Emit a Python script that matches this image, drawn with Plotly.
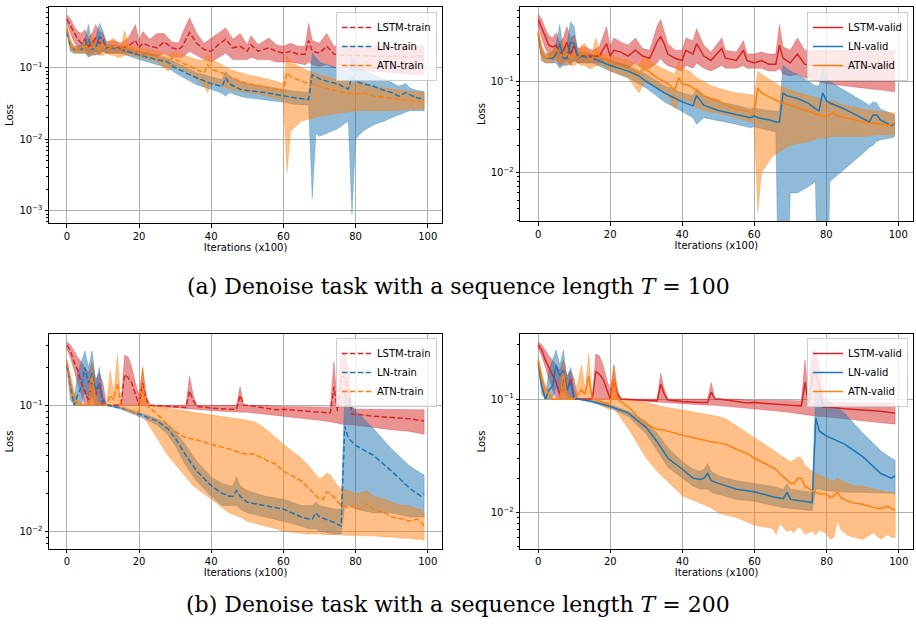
import plotly.graph_objects as go

# ---------------- data ----------------
X_TICKS = [0, 20, 40, 60, 80, 100]

# Panel (a) left : train, T=100
P1_LSTM_X = [0, 1, 2, 3, 4, 5, 6, 7, 8, 9, 10, 11, 13, 15, 17, 19, 20, 21, 23, 25, 27, 29, 31, 32, 34, 36, 38, 40, 42, 44, 46, 48, 50, 51, 53, 56, 58, 60, 62, 64, 66, 67, 68, 70, 72, 74, 76, 80, 85, 90, 96, 97, 99]
P1_LSTM_MEAN = [0.48, 0.38, 0.3, 0.25, 0.22, 0.25, 0.2, 0.22, 0.26, 0.22, 0.24, 0.19, 0.19, 0.19, 0.2, 0.24, 0.19, 0.22, 0.2, 0.19, 0.23, 0.19, 0.18, 0.2, 0.31, 0.22, 0.18, 0.17, 0.21, 0.25, 0.19, 0.2, 0.17, 0.21, 0.17, 0.19, 0.17, 0.16, 0.17, 0.155, 0.155, 0.24, 0.17, 0.16, 0.2, 0.155, 0.15, 0.15, 0.145, 0.145, 0.14, 0.15, 0.14]
P1_LSTM_HI = [0.55, 0.48, 0.38, 0.32, 0.3, 0.34, 0.26, 0.3, 0.4, 0.32, 0.3, 0.23, 0.24, 0.22, 0.26, 0.4, 0.24, 0.32, 0.25, 0.3, 0.3, 0.23, 0.22, 0.3, 0.5, 0.3, 0.22, 0.26, 0.3, 0.36, 0.25, 0.3, 0.21, 0.28, 0.21, 0.26, 0.21, 0.2, 0.22, 0.2, 0.2, 0.42, 0.24, 0.22, 0.3, 0.2, 0.2, 0.2, 0.2, 0.2, 0.2, 0.2, 0.2]
P1_LSTM_LO = [0.42, 0.3, 0.23, 0.19, 0.17, 0.18, 0.15, 0.16, 0.17, 0.15, 0.17, 0.16, 0.16, 0.16, 0.16, 0.16, 0.15, 0.15, 0.15, 0.14, 0.16, 0.14, 0.14, 0.14, 0.17, 0.15, 0.13, 0.12, 0.14, 0.16, 0.13, 0.13, 0.13, 0.14, 0.13, 0.13, 0.12, 0.12, 0.12, 0.115, 0.11, 0.12, 0.11, 0.105, 0.11, 0.1, 0.1, 0.095, 0.09, 0.085, 0.08, 0.08, 0.08]

P1_LN_X = [0, 1, 2, 3, 4, 5, 6, 7, 8, 9, 10, 11, 12, 15, 20, 25, 28, 30, 33, 36, 40, 43, 44, 45, 48, 50, 55, 58, 60, 63, 67, 68, 69, 70, 72, 75, 78, 79, 80, 82, 85, 88, 90, 92, 94, 95, 97, 99]
P1_LN_MEAN = [0.32, 0.2, 0.18, 0.18, 0.18, 0.2, 0.25, 0.18, 0.19, 0.27, 0.25, 0.18, 0.19, 0.18, 0.15, 0.13, 0.12, 0.1, 0.085, 0.072, 0.06, 0.055, 0.072, 0.06, 0.05, 0.048, 0.045, 0.042, 0.04, 0.038, 0.036, 0.08, 0.075, 0.07, 0.065, 0.06, 0.05, 0.075, 0.065, 0.06, 0.055, 0.048, 0.045, 0.04, 0.045, 0.042, 0.038, 0.036]
P1_LN_HI = [0.36, 0.23, 0.2, 0.2, 0.21, 0.25, 0.4, 0.22, 0.26, 0.42, 0.33, 0.21, 0.21, 0.2, 0.17, 0.15, 0.135, 0.12, 0.1, 0.085, 0.075, 0.068, 0.09, 0.075, 0.065, 0.06, 0.055, 0.052, 0.05, 0.047, 0.045, 0.16, 0.14, 0.12, 0.11, 0.1, 0.09, 0.15, 0.11, 0.095, 0.08, 0.07, 0.062, 0.055, 0.06, 0.052, 0.048, 0.047]
P1_LN_LO = [0.3, 0.17, 0.16, 0.16, 0.16, 0.16, 0.14, 0.15, 0.15, 0.16, 0.17, 0.16, 0.16, 0.16, 0.13, 0.11, 0.1, 0.085, 0.07, 0.058, 0.05, 0.044, 0.04, 0.045, 0.04, 0.038, 0.035, 0.034, 0.033, 0.031, 0.03, 0.0015, 0.012, 0.011, 0.012, 0.014, 0.018, 0.0009, 0.01, 0.013, 0.016, 0.018, 0.02, 0.022, 0.024, 0.025, 0.025, 0.025]

P1_ATN_X = [0, 1, 2, 4, 5, 6, 7, 8, 9, 10, 11, 12, 13, 14, 15, 16, 17, 18, 20, 25, 28, 29, 30, 33, 36, 38, 39, 40, 43, 45, 48, 50, 53, 55, 58, 60, 61, 62, 65, 67, 70, 75, 80, 82, 85, 90, 95, 99]
P1_ATN_MEAN = [0.35, 0.2, 0.18, 0.18, 0.2, 0.19, 0.19, 0.2, 0.18, 0.21, 0.18, 0.19, 0.2, 0.18, 0.175, 0.21, 0.18, 0.175, 0.16, 0.14, 0.125, 0.135, 0.13, 0.11, 0.095, 0.085, 0.11, 0.095, 0.085, 0.075, 0.065, 0.06, 0.057, 0.053, 0.05, 0.047, 0.085, 0.075, 0.065, 0.06, 0.055, 0.047, 0.042, 0.045, 0.04, 0.037, 0.035, 0.033]
P1_ATN_HI = [0.38, 0.25, 0.2, 0.2, 0.24, 0.23, 0.3, 0.24, 0.21, 0.28, 0.2, 0.24, 0.26, 0.22, 0.2, 0.33, 0.22, 0.2, 0.19, 0.17, 0.15, 0.16, 0.165, 0.145, 0.13, 0.125, 0.16, 0.13, 0.11, 0.095, 0.085, 0.08, 0.075, 0.07, 0.065, 0.06, 0.15, 0.12, 0.1, 0.09, 0.08, 0.068, 0.06, 0.062, 0.055, 0.05, 0.047, 0.045]
P1_ATN_LO = [0.32, 0.17, 0.16, 0.16, 0.16, 0.15, 0.15, 0.16, 0.15, 0.15, 0.16, 0.15, 0.15, 0.14, 0.14, 0.15, 0.15, 0.15, 0.14, 0.12, 0.09, 0.1, 0.105, 0.085, 0.07, 0.055, 0.045, 0.06, 0.055, 0.05, 0.047, 0.045, 0.043, 0.04, 0.037, 0.035, 0.0035, 0.013, 0.018, 0.019, 0.021, 0.023, 0.025, 0.025, 0.025, 0.025, 0.026, 0.026]

# Panel (a) right : valid, T=100
P2_LSTM_X = [0, 1, 2, 3, 4, 5, 6, 7, 8, 9, 10, 11, 13, 15, 17, 19, 20, 21, 23, 25, 27, 29, 31, 33, 34, 35, 36, 38, 40, 41, 43, 44, 46, 48, 51, 52, 55, 57, 58, 60, 62, 64, 66, 67, 68, 70, 72, 74, 76, 80, 85, 90, 96, 97, 99]
P2_LSTM_MEAN = [0.48, 0.38, 0.3, 0.25, 0.24, 0.25, 0.2, 0.22, 0.27, 0.2, 0.25, 0.19, 0.19, 0.19, 0.19, 0.26, 0.19, 0.22, 0.21, 0.19, 0.22, 0.19, 0.18, 0.27, 0.31, 0.26, 0.2, 0.18, 0.17, 0.22, 0.2, 0.26, 0.19, 0.17, 0.23, 0.18, 0.17, 0.22, 0.17, 0.16, 0.17, 0.155, 0.155, 0.25, 0.18, 0.16, 0.2, 0.155, 0.15, 0.15, 0.145, 0.145, 0.14, 0.155, 0.14]
P2_LSTM_HI = [0.55, 0.48, 0.38, 0.32, 0.3, 0.34, 0.27, 0.3, 0.4, 0.3, 0.32, 0.23, 0.24, 0.22, 0.24, 0.4, 0.24, 0.3, 0.27, 0.25, 0.3, 0.23, 0.22, 0.4, 0.48, 0.35, 0.26, 0.22, 0.22, 0.3, 0.28, 0.38, 0.25, 0.21, 0.3, 0.22, 0.21, 0.28, 0.2, 0.2, 0.21, 0.2, 0.2, 0.42, 0.24, 0.22, 0.3, 0.22, 0.22, 0.22, 0.22, 0.22, 0.22, 0.22, 0.22]
P2_LSTM_LO = [0.42, 0.3, 0.23, 0.19, 0.17, 0.18, 0.15, 0.16, 0.17, 0.15, 0.17, 0.16, 0.16, 0.16, 0.16, 0.17, 0.15, 0.15, 0.15, 0.14, 0.16, 0.14, 0.14, 0.16, 0.18, 0.16, 0.15, 0.14, 0.13, 0.15, 0.14, 0.16, 0.14, 0.13, 0.15, 0.14, 0.14, 0.15, 0.14, 0.14, 0.14, 0.13, 0.13, 0.14, 0.12, 0.115, 0.12, 0.11, 0.105, 0.095, 0.09, 0.085, 0.08, 0.08, 0.077]

P2_LN_X = [0, 1, 2, 3, 4, 5, 6, 7, 8, 9, 10, 11, 12, 15, 20, 25, 28, 30, 35, 40, 43, 44, 46, 50, 55, 59, 60, 61, 64, 66, 67, 68, 69, 70, 72, 75, 77, 78, 79, 80, 81, 85, 90, 92, 93, 94, 95, 98, 99]
P2_LN_MEAN = [0.33, 0.2, 0.18, 0.18, 0.18, 0.2, 0.26, 0.18, 0.18, 0.27, 0.26, 0.18, 0.19, 0.18, 0.15, 0.13, 0.115, 0.1, 0.075, 0.06, 0.054, 0.07, 0.055, 0.048, 0.043, 0.04, 0.042, 0.04, 0.038, 0.036, 0.036, 0.075, 0.07, 0.068, 0.065, 0.058, 0.05, 0.048, 0.075, 0.062, 0.058, 0.05, 0.04, 0.036, 0.043, 0.043, 0.038, 0.033, 0.034]
P2_LN_HI = [0.36, 0.23, 0.2, 0.2, 0.21, 0.26, 0.42, 0.22, 0.26, 0.45, 0.4, 0.21, 0.21, 0.2, 0.17, 0.15, 0.13, 0.12, 0.09, 0.075, 0.07, 0.085, 0.07, 0.06, 0.055, 0.05, 0.052, 0.05, 0.048, 0.047, 0.047, 0.15, 0.14, 0.13, 0.12, 0.1, 0.09, 0.09, 0.14, 0.11, 0.1, 0.08, 0.062, 0.055, 0.06, 0.058, 0.05, 0.044, 0.043]
P2_LN_LO = [0.3, 0.17, 0.16, 0.16, 0.16, 0.16, 0.14, 0.15, 0.15, 0.16, 0.17, 0.16, 0.16, 0.16, 0.13, 0.11, 0.095, 0.085, 0.06, 0.047, 0.04, 0.034, 0.04, 0.037, 0.034, 0.031, 0.032, 0.031, 0.029, 0.028, 0.0001, 0.0001, 0.0001, 0.006, 0.006, 0.007, 0.008, 0.0001, 0.0001, 0.0001, 0.008, 0.011, 0.016, 0.019, 0.02, 0.022, 0.023, 0.024, 0.025]

P2_ATN_X = [0, 1, 2, 4, 5, 6, 7, 8, 9, 10, 11, 12, 13, 14, 15, 16, 17, 18, 20, 25, 28, 29, 30, 33, 36, 38, 39, 40, 42, 44, 46, 48, 50, 52, 55, 58, 60, 61, 62, 65, 67, 70, 75, 78, 80, 82, 83, 85, 88, 90, 95, 97, 99]
P2_ATN_MEAN = [0.35, 0.2, 0.18, 0.19, 0.23, 0.2, 0.19, 0.2, 0.18, 0.2, 0.18, 0.2, 0.21, 0.18, 0.175, 0.22, 0.19, 0.18, 0.16, 0.14, 0.12, 0.135, 0.135, 0.11, 0.095, 0.08, 0.11, 0.095, 0.09, 0.08, 0.07, 0.065, 0.062, 0.055, 0.05, 0.047, 0.045, 0.085, 0.075, 0.065, 0.06, 0.055, 0.047, 0.043, 0.041, 0.046, 0.042, 0.04, 0.038, 0.036, 0.034, 0.033, 0.035]
P2_ATN_HI = [0.38, 0.25, 0.2, 0.21, 0.26, 0.23, 0.3, 0.24, 0.21, 0.3, 0.2, 0.25, 0.26, 0.22, 0.2, 0.3, 0.22, 0.2, 0.19, 0.17, 0.15, 0.18, 0.18, 0.15, 0.13, 0.12, 0.17, 0.14, 0.13, 0.11, 0.1, 0.09, 0.085, 0.08, 0.075, 0.073, 0.07, 0.13, 0.12, 0.1, 0.09, 0.08, 0.07, 0.065, 0.06, 0.062, 0.058, 0.055, 0.052, 0.05, 0.047, 0.046, 0.045]
P2_ATN_LO = [0.32, 0.17, 0.16, 0.16, 0.17, 0.16, 0.15, 0.16, 0.15, 0.15, 0.16, 0.15, 0.15, 0.14, 0.14, 0.15, 0.15, 0.15, 0.13, 0.11, 0.075, 0.09, 0.1, 0.085, 0.07, 0.05, 0.06, 0.065, 0.06, 0.052, 0.048, 0.046, 0.045, 0.043, 0.04, 0.037, 0.035, 0.0037, 0.01, 0.015, 0.017, 0.02, 0.022, 0.024, 0.024, 0.025, 0.025, 0.025, 0.025, 0.025, 0.026, 0.026, 0.026]

# Panel (b) left : train, T=200
P3_LSTM_X = [0, 1, 2, 3, 4, 5, 6, 7, 8, 9, 10, 11, 15, 16, 17, 18, 19, 20, 21, 22, 23, 30, 33, 34, 35, 36, 40, 45, 47, 48, 49, 50, 55, 58, 60, 65, 70, 73, 74, 75, 76, 77, 78, 79, 80, 85, 90, 95, 99]
P3_LSTM_MEAN = [0.3, 0.27, 0.22, 0.19, 0.15, 0.13, 0.11, 0.16, 0.12, 0.15, 0.1, 0.1, 0.1, 0.175, 0.165, 0.15, 0.12, 0.1, 0.15, 0.11, 0.1, 0.098, 0.096, 0.13, 0.11, 0.098, 0.095, 0.093, 0.093, 0.12, 0.1, 0.1, 0.095, 0.092, 0.093, 0.09, 0.088, 0.087, 0.14, 0.09, 0.17, 0.165, 0.13, 0.085, 0.085, 0.082, 0.08, 0.078, 0.075]
P3_LSTM_HI = [0.32, 0.3, 0.27, 0.24, 0.22, 0.2, 0.18, 0.22, 0.16, 0.18, 0.15, 0.1, 0.1, 0.25, 0.24, 0.2, 0.15, 0.12, 0.2, 0.12, 0.1, 0.1, 0.1, 0.17, 0.12, 0.1, 0.1, 0.1, 0.1, 0.14, 0.1, 0.1, 0.1, 0.098, 0.098, 0.097, 0.097, 0.096, 0.22, 0.1, 0.27, 0.26, 0.2, 0.095, 0.093, 0.093, 0.093, 0.092, 0.092]
P3_LSTM_LO = [0.28, 0.24, 0.19, 0.15, 0.12, 0.1, 0.1, 0.1, 0.1, 0.1, 0.1, 0.1, 0.1, 0.1, 0.1, 0.1, 0.1, 0.1, 0.1, 0.1, 0.1, 0.095, 0.094, 0.094, 0.093, 0.093, 0.091, 0.089, 0.088, 0.088, 0.088, 0.088, 0.085, 0.083, 0.082, 0.079, 0.076, 0.074, 0.073, 0.072, 0.071, 0.07, 0.07, 0.07, 0.07, 0.067, 0.064, 0.062, 0.059]

P3_LN_X = [0, 1, 2, 3, 4, 5, 6, 7, 8, 9, 10, 11, 15, 20, 25, 28, 30, 33, 36, 40, 43, 45, 46, 47, 48, 50, 55, 60, 65, 67, 68, 69, 70, 74, 76, 77, 78, 80, 85, 90, 95, 98, 99]
P3_LN_MEAN = [0.21, 0.14, 0.1, 0.12, 0.14, 0.2, 0.15, 0.18, 0.13, 0.15, 0.11, 0.1, 0.095, 0.085, 0.075, 0.065, 0.055, 0.04, 0.03, 0.023, 0.02, 0.019, 0.019, 0.021, 0.019, 0.017, 0.016, 0.015, 0.013, 0.0125, 0.0125, 0.014, 0.013, 0.0118, 0.011, 0.068, 0.055, 0.048, 0.04, 0.03, 0.022, 0.019, 0.02]
P3_LN_HI = [0.23, 0.16, 0.11, 0.18, 0.22, 0.27, 0.2, 0.27, 0.15, 0.2, 0.12, 0.1, 0.097, 0.088, 0.078, 0.07, 0.062, 0.048, 0.036, 0.027, 0.024, 0.023, 0.023, 0.027, 0.023, 0.021, 0.019, 0.018, 0.016, 0.016, 0.016, 0.017, 0.016, 0.015, 0.015, 0.125, 0.11, 0.09, 0.065, 0.045, 0.033, 0.029, 0.028]
P3_LN_LO = [0.2, 0.11, 0.1, 0.1, 0.1, 0.13, 0.1, 0.12, 0.1, 0.1, 0.1, 0.1, 0.093, 0.082, 0.07, 0.058, 0.048, 0.033, 0.025, 0.019, 0.016, 0.016, 0.016, 0.016, 0.015, 0.014, 0.013, 0.012, 0.011, 0.0105, 0.0105, 0.0105, 0.01, 0.0095, 0.0095, 0.016, 0.016, 0.015, 0.014, 0.014, 0.013, 0.013, 0.013]

P3_ATN_X = [0, 1, 2, 3, 5, 6, 7, 8, 9, 10, 11, 12, 13, 14, 15, 16, 17, 19, 20, 21, 22, 23, 25, 28, 30, 33, 35, 40, 45, 48, 50, 52, 55, 58, 60, 63, 65, 67, 69, 70, 71, 72, 73, 75, 76, 78, 80, 81, 83, 85, 88, 90, 93, 95, 97, 98, 99]
P3_ATN_MEAN = [0.22, 0.15, 0.12, 0.1, 0.1, 0.1, 0.17, 0.11, 0.1, 0.1, 0.1, 0.12, 0.11, 0.15, 0.1, 0.095, 0.09, 0.088, 0.09, 0.145, 0.1, 0.095, 0.085, 0.07, 0.062, 0.055, 0.054, 0.049, 0.045, 0.042, 0.041, 0.041, 0.037, 0.034, 0.03, 0.027, 0.025, 0.022, 0.019, 0.018, 0.018, 0.0205, 0.02, 0.017, 0.016, 0.0155, 0.016, 0.015, 0.0165, 0.015, 0.014, 0.013, 0.0125, 0.012, 0.0125, 0.012, 0.011]
P3_ATN_HI = [0.23, 0.17, 0.13, 0.11, 0.1, 0.1, 0.22, 0.12, 0.1, 0.1, 0.1, 0.19, 0.12, 0.25, 0.1, 0.1, 0.1, 0.1, 0.1, 0.2, 0.1, 0.1, 0.098, 0.096, 0.094, 0.09, 0.088, 0.084, 0.08, 0.077, 0.076, 0.074, 0.065, 0.055, 0.049, 0.042, 0.038, 0.033, 0.028, 0.026, 0.027, 0.029, 0.028, 0.023, 0.022, 0.021, 0.02, 0.02, 0.021, 0.019, 0.018, 0.017, 0.016, 0.016, 0.015, 0.015, 0.014]
P3_ATN_LO = [0.2, 0.12, 0.1, 0.1, 0.1, 0.1, 0.1, 0.1, 0.1, 0.1, 0.1, 0.1, 0.1, 0.1, 0.095, 0.093, 0.09, 0.085, 0.08, 0.09, 0.075, 0.068, 0.055, 0.04, 0.034, 0.027, 0.023, 0.018, 0.014, 0.013, 0.012, 0.0115, 0.011, 0.0105, 0.01, 0.0098, 0.0096, 0.0095, 0.0095, 0.0096, 0.0094, 0.0095, 0.0095, 0.0094, 0.0094, 0.0093, 0.0093, 0.0092, 0.0092, 0.0092, 0.009, 0.009, 0.0088, 0.0088, 0.0086, 0.0087, 0.0085]

# Panel (b) right : valid, T=200
P4_LSTM_X = [0, 1, 2, 3, 4, 5, 6, 7, 8, 9, 10, 11, 15, 16, 17, 18, 19, 20, 21, 22, 23, 30, 33, 34, 35, 36, 40, 45, 47, 48, 49, 50, 55, 58, 60, 65, 70, 73, 74, 75, 76, 77, 78, 79, 80, 85, 90, 95, 99]
P4_LSTM_MEAN = [0.3, 0.27, 0.22, 0.19, 0.16, 0.14, 0.11, 0.15, 0.12, 0.15, 0.1, 0.1, 0.1, 0.175, 0.165, 0.15, 0.12, 0.1, 0.15, 0.11, 0.1, 0.098, 0.096, 0.135, 0.11, 0.098, 0.095, 0.093, 0.093, 0.115, 0.1, 0.1, 0.095, 0.092, 0.093, 0.09, 0.088, 0.087, 0.14, 0.09, 0.17, 0.165, 0.13, 0.085, 0.085, 0.082, 0.08, 0.078, 0.075]
P4_LSTM_HI = [0.32, 0.3, 0.27, 0.24, 0.22, 0.2, 0.18, 0.22, 0.16, 0.18, 0.15, 0.1, 0.1, 0.25, 0.24, 0.2, 0.15, 0.12, 0.2, 0.12, 0.1, 0.1, 0.1, 0.17, 0.12, 0.1, 0.1, 0.1, 0.1, 0.14, 0.1, 0.1, 0.1, 0.098, 0.098, 0.097, 0.097, 0.096, 0.22, 0.1, 0.27, 0.26, 0.2, 0.095, 0.093, 0.093, 0.093, 0.092, 0.092]
P4_LSTM_LO = [0.28, 0.24, 0.19, 0.15, 0.12, 0.1, 0.1, 0.1, 0.1, 0.1, 0.1, 0.1, 0.1, 0.1, 0.1, 0.1, 0.1, 0.1, 0.1, 0.1, 0.1, 0.095, 0.094, 0.094, 0.093, 0.093, 0.091, 0.089, 0.088, 0.088, 0.088, 0.088, 0.085, 0.083, 0.082, 0.079, 0.076, 0.074, 0.073, 0.072, 0.071, 0.07, 0.07, 0.07, 0.07, 0.067, 0.064, 0.062, 0.06]

P4_LN_X = [0, 1, 2, 3, 4, 5, 6, 7, 8, 9, 10, 11, 15, 20, 25, 30, 33, 36, 40, 43, 45, 46, 47, 48, 50, 55, 60, 65, 68, 69, 70, 75, 76, 77, 78, 80, 85, 90, 95, 98, 99]
P4_LN_MEAN = [0.21, 0.13, 0.1, 0.12, 0.13, 0.2, 0.16, 0.18, 0.12, 0.14, 0.1, 0.1, 0.095, 0.086, 0.075, 0.056, 0.042, 0.03, 0.024, 0.02, 0.0195, 0.02, 0.022, 0.019, 0.018, 0.016, 0.0152, 0.0137, 0.0132, 0.015, 0.013, 0.0122, 0.0122, 0.068, 0.052, 0.047, 0.04, 0.031, 0.022, 0.02, 0.021]
P4_LN_HI = [0.23, 0.16, 0.11, 0.18, 0.22, 0.27, 0.2, 0.27, 0.15, 0.19, 0.12, 0.1, 0.097, 0.089, 0.078, 0.063, 0.05, 0.037, 0.028, 0.024, 0.023, 0.024, 0.027, 0.023, 0.021, 0.019, 0.018, 0.017, 0.016, 0.018, 0.016, 0.015, 0.015, 0.125, 0.11, 0.1, 0.075, 0.05, 0.035, 0.03, 0.029]
P4_LN_LO = [0.2, 0.11, 0.1, 0.1, 0.1, 0.13, 0.1, 0.12, 0.1, 0.1, 0.1, 0.1, 0.093, 0.083, 0.07, 0.049, 0.035, 0.025, 0.02, 0.017, 0.016, 0.016, 0.016, 0.015, 0.0145, 0.013, 0.0125, 0.0115, 0.011, 0.011, 0.0108, 0.0104, 0.0104, 0.016, 0.016, 0.0155, 0.015, 0.015, 0.0148, 0.0147, 0.0147]

P4_ATN_X = [0, 1, 2, 3, 4, 6, 7, 8, 10, 12, 13, 14, 15, 20, 21, 22, 25, 28, 30, 33, 35, 40, 45, 48, 50, 52, 55, 58, 60, 63, 65, 66, 67, 69, 70, 71, 72, 73, 74, 76, 77, 78, 80, 81, 82, 83, 84, 86, 88, 90, 93, 95, 97, 98, 99]
P4_ATN_MEAN = [0.22, 0.15, 0.12, 0.11, 0.1, 0.1, 0.17, 0.1, 0.1, 0.12, 0.11, 0.16, 0.1, 0.09, 0.15, 0.1, 0.085, 0.068, 0.06, 0.054, 0.053, 0.048, 0.044, 0.042, 0.041, 0.04, 0.036, 0.033, 0.03, 0.027, 0.025, 0.024, 0.022, 0.019, 0.018, 0.018, 0.02, 0.02, 0.017, 0.0155, 0.015, 0.0145, 0.0145, 0.0135, 0.014, 0.015, 0.0135, 0.0125, 0.012, 0.0118, 0.011, 0.0108, 0.0113, 0.0108, 0.0104]
P4_ATN_HI = [0.23, 0.17, 0.13, 0.12, 0.1, 0.1, 0.22, 0.11, 0.1, 0.2, 0.12, 0.25, 0.1, 0.1, 0.2, 0.1, 0.098, 0.096, 0.093, 0.088, 0.085, 0.08, 0.075, 0.072, 0.07, 0.067, 0.058, 0.05, 0.046, 0.04, 0.036, 0.034, 0.032, 0.029, 0.028, 0.029, 0.031, 0.03, 0.026, 0.023, 0.022, 0.021, 0.02, 0.019, 0.019, 0.02, 0.019, 0.018, 0.017, 0.017, 0.016, 0.0155, 0.015, 0.015, 0.0147]
P4_ATN_LO = [0.2, 0.12, 0.1, 0.1, 0.1, 0.1, 0.1, 0.1, 0.1, 0.1, 0.1, 0.1, 0.095, 0.08, 0.085, 0.075, 0.055, 0.038, 0.03, 0.023, 0.02, 0.014, 0.012, 0.011, 0.0098, 0.0095, 0.009, 0.0082, 0.0077, 0.0074, 0.0072, 0.0064, 0.008, 0.0068, 0.007, 0.0066, 0.0075, 0.0072, 0.0064, 0.0068, 0.0063, 0.007, 0.0065, 0.0058, 0.006, 0.0085, 0.007, 0.0062, 0.006, 0.0058, 0.0066, 0.0058, 0.0064, 0.006, 0.006]

CAPTION_A = "(a) Denoise task with a sequence length <i>T</i> = 100"
CAPTION_B = "(b) Denoise task with a sequence length <i>T</i> = 200"

# ---------------- style ----------------
RED, BLUE, ORANGE = "#d62728", "#1f77b4", "#ff7f0e"
FILLS = {RED: "rgba(214,39,40,0.5)", BLUE: "rgba(31,119,180,0.5)", ORANGE: "rgba(255,127,14,0.5)"}
W, H = 916, 632

panels = [
    dict(ax="", dash=True, legend="legend",
         box=(49, 442, 7, 223), yr=(-3.17, -0.151), leg=(437, 12),
         series=[("LSTM-train", P1_LSTM_X, P1_LSTM_MEAN, P1_LSTM_LO, P1_LSTM_HI, RED),
                 ("LN-train", P1_LN_X, P1_LN_MEAN, P1_LN_LO, P1_LN_HI, BLUE),
                 ("ATN-train", P1_ATN_X, P1_ATN_MEAN, P1_ATN_LO, P1_ATN_HI, ORANGE)],
         yt=[1e-3, 1e-2, 1e-1], ytt=["10<sup>−3</sup>", "10<sup>−2</sup>", "10<sup>−1</sup>"]),
    dict(ax="2", dash=False, legend="legend2",
         box=(520.3, 912.5, 7, 221), yr=(-2.53, -0.183), leg=(908, 12),
         series=[("LSTM-valid", P2_LSTM_X, P2_LSTM_MEAN, P2_LSTM_LO, P2_LSTM_HI, RED),
                 ("LN-valid", P2_LN_X, P2_LN_MEAN, P2_LN_LO, P2_LN_HI, BLUE),
                 ("ATN-valid", P2_ATN_X, P2_ATN_MEAN, P2_ATN_LO, P2_ATN_HI, ORANGE)],
         yt=[1e-2, 1e-1], ytt=["10<sup>−2</sup>", "10<sup>−1</sup>"]),
    dict(ax="3", dash=True, legend="legend3",
         box=(49, 442, 334.3, 548.7), yr=(-2.138, -0.437), leg=(437, 338),
         series=[("LSTM-train", P3_LSTM_X, P3_LSTM_MEAN, P3_LSTM_LO, P3_LSTM_HI, RED),
                 ("LN-train", P3_LN_X, P3_LN_MEAN, P3_LN_LO, P3_LN_HI, BLUE),
                 ("ATN-train", P3_ATN_X, P3_ATN_MEAN, P3_ATN_LO, P3_ATN_HI, ORANGE)],
         yt=[1e-2, 1e-1], ytt=["10<sup>−2</sup>", "10<sup>−1</sup>"]),
    dict(ax="4", dash=False, legend="legend4",
         box=(520.3, 913, 334.3, 548.7), yr=(-2.321, -0.429), leg=(908, 338),
         series=[("LSTM-valid", P4_LSTM_X, P4_LSTM_MEAN, P4_LSTM_LO, P4_LSTM_HI, RED),
                 ("LN-valid", P4_LN_X, P4_LN_MEAN, P4_LN_LO, P4_LN_HI, BLUE),
                 ("ATN-valid", P4_ATN_X, P4_ATN_MEAN, P4_ATN_LO, P4_ATN_HI, ORANGE)],
         yt=[1e-2, 1e-1], ytt=["10<sup>−2</sup>", "10<sup>−1</sup>"]),
]

MINOR = [k * 10.0 ** e for e in range(-4, 1) for k in range(2, 10)]
TICKFONT = dict(family="DejaVu Sans", size=10, color="black")

fig = go.Figure()
layout = {}
for p in panels:
    xa, ya = "x" + p["ax"], "y" + p["ax"]
    # fills first (matplotlib draws collections below lines)
    for name, X, M, LO, HI, col in p["series"]:
        fig.add_trace(go.Scatter(
            x=list(X) + list(X)[::-1], y=list(HI) + list(LO)[::-1],
            fill="toself", fillcolor=FILLS[col], mode="lines",
            line=dict(width=0.6, color=FILLS[col]), showlegend=False, hoverinfo="skip",
            xaxis=xa, yaxis=ya))
    for name, X, M, LO, HI, col in p["series"]:
        fig.add_trace(go.Scatter(
            x=X, y=M, mode="lines", name=name,
            line=dict(color=col, width=1.5, dash="5.5px,2.4px" if p["dash"] else "solid"),
            xaxis=xa, yaxis=ya, legend=p["legend"]))
    x0, x1, y0, y1 = p["box"]
    xkey = "xaxis" + p["ax"]
    ykey = "yaxis" + p["ax"]
    layout[xkey] = dict(
        domain=[x0 / W, x1 / W], anchor=ya, range=[-4.95, 103.95], automargin=False,
        tickmode="array", tickvals=X_TICKS, ticks="outside", ticklen=3.5, tickcolor="black",
        tickfont=TICKFONT, showgrid=True, gridcolor="#b0b0b0", gridwidth=0.8,
        showline=True, mirror=True, linecolor="black", linewidth=1, zeroline=False,
        title=dict(text="Iterations (x100)", font=dict(family="DejaVu Sans", size=10, color="black"), standoff=2))
    layout[ykey] = dict(
        domain=[1 - y1 / H, 1 - y0 / H], anchor=xa, type="log", range=list(p["yr"]), automargin=False,
        tickmode="array", tickvals=p["yt"], ticktext=p["ytt"], ticks="outside", ticklen=3.5,
        tickcolor="black", tickfont=TICKFONT, showgrid=True, gridcolor="#b0b0b0", gridwidth=0.8,
        showline=True, mirror=True, linecolor="black", linewidth=1, zeroline=False,
        minor=dict(tickmode="array", tickvals=MINOR, ticks="outside", ticklen=2, tickcolor="black", showgrid=False),
        title=dict(text="Loss", font=dict(family="DejaVu Sans", size=10, color="black"), standoff=3))
    lx, ly = p["leg"]
    layout[p["legend"]] = dict(
        x=lx / W, y=1 - ly / H, xanchor="right", yanchor="top", itemwidth=30,
        bgcolor="rgba(255,255,255,0.8)", bordercolor="#cccccc", borderwidth=1,
        font=dict(family="DejaVu Sans", size=10, color="black"), tracegroupgap=0)

fig.update_layout(**layout)
fig.update_layout(
    width=W, height=H, margin=dict(l=0, r=0, t=0, b=0, autoexpand=False),
    paper_bgcolor="white", plot_bgcolor="white",
    annotations=[
        dict(text=CAPTION_A, x=0.5, y=1 - 286 / H, xref="paper", yref="paper", showarrow=False,
             xanchor="center", yanchor="middle", font=dict(family="DejaVu Serif", size=22, color="black")),
        dict(text=CAPTION_B, x=0.5, y=1 - 604 / H, xref="paper", yref="paper", showarrow=False,
             xanchor="center", yanchor="middle", font=dict(family="DejaVu Serif", size=22, color="black")),
    ])

fig.write_html("out.html", config={"displayModeBar": False},
               post_script="document.body.style.margin='0';document.body.style.padding='0';document.body.style.overflow='hidden';")
